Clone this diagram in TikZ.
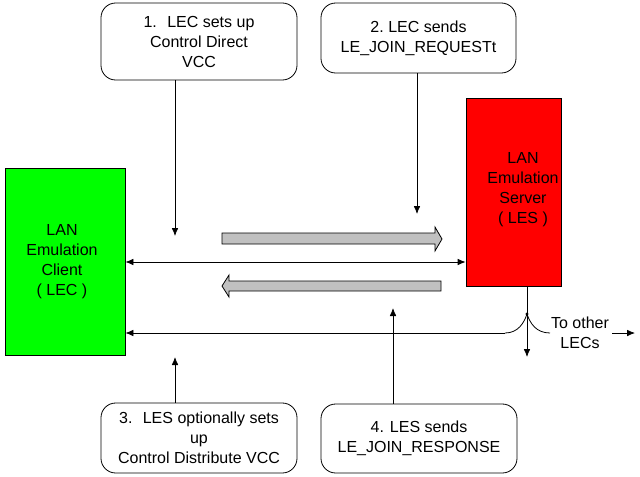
\documentclass[tikz,border=0pt]{standalone}
\usepackage{fontspec}
\setmainfont{Liberation Sans}
\usetikzlibrary{arrows.meta}
\definecolor{lecgreen}{RGB}{0,255,0}
\definecolor{lesred}{RGB}{255,0,0}
\definecolor{arrgray}{RGB}{192,192,192}
\tikzset{
  txt/.style={align=center,font=\fontsize{12}{15}\selectfont,inner sep=0pt},
  callout/.style={draw,rounded corners=11pt,line width=0.6pt,txt},
  entity/.style={draw,line width=0.6pt,inner sep=0pt},
  conn/.style={line width=0.6pt,-{Latex[length=6pt,width=5pt]}},
  bigarrow/.style={fill=arrgray,draw,line width=0.6pt},
}
\begin{document}
\begin{tikzpicture}[x=0.75pt,y=-0.75pt]
\useasboundingbox (0,0) rectangle (640,476);
% callout boxes
\node[callout,minimum width=147pt,minimum height=57.75pt] (b1) at (199,41.5) {1.~ LEC sets up\\Control Direct\\VCC};
\node[callout,minimum width=146.25pt,minimum height=52.5pt] (b2) at (418.5,38) {2.~LEC sends\\LE\_JOIN\_REQUESTt};
\node[callout,minimum width=147pt,minimum height=52.5pt] (b3) at (199,438) {3.~ LES optionally sets\\up\\Control Distribute VCC};
\node[callout,minimum width=147pt,minimum height=51.75pt] (b4) at (419,438.5) {4. LES sends\\LE\_JOIN\_RESPONSE};
% entities
\node[entity,fill=lecgreen,minimum width=90pt,minimum height=140.25pt] (lec) at (65,261.5) {};
\node[txt] (lect) at (62,262) {LAN\\Emulation\\Client\\( LEC )};
\node[entity,fill=lesred,minimum width=71.25pt,minimum height=141pt] (les) at (513.5,192) {};
\node[txt] (lest) at (523,190) {LAN\\Emulation\\Server\\( LES )};
% coordinates
\coordinate (c1) at (175,236);
\coordinate (c2) at (417,214);
\coordinate (c3) at (175,357);
\coordinate (c4) at (393,308);
\coordinate (mid) at (300,262);
\coordinate (bot) at (300,333);
\coordinate (j) at (527,314);
\coordinate (jl) at (505,333);
\coordinate (jr) at (550,333);
\coordinate (vd) at (527,357);
\coordinate (o1) at (612,333);
\coordinate (o2) at (635,333);
% connectors
\draw[conn] (c1 |- b1.south) -- (c1);
\draw[conn] (c2 |- b2.south) -- (c2);
\draw[conn] (c3 |- b3.north) -- (c3);
\draw[conn] (c4 |- b4.north) -- (c4);
\draw[line width=0.6pt,{Latex[length=6pt,width=5pt]}-{Latex[length=6pt,width=5pt]}] (lec.east |- mid) -- (les.west |- mid);
\draw[conn] (jl) -- (lec.east |- bot);
\draw[line width=0.6pt] (jl) .. controls (518,333) and (524,323) .. (j)
  .. controls (530,323) and (536,333) .. (jr);
\draw[conn] (les.south -| j) -- (vd);
\fill (j) circle (1.2pt);
\node[txt] (other) at (580,333) {To other\\LECs};
\draw[conn] (o1) -- (o2);
% big grey arrows
\draw[bigarrow] (222,233) -- (435,233) -- (435,227) -- (442,239) -- (435,251) -- (435,244) -- (222,244) -- cycle;
\draw[bigarrow] (441,281) -- (229,281) -- (229,275) -- (222,286) -- (229,297) -- (229,291) -- (441,291) -- cycle;
\end{tikzpicture}
\end{document}
